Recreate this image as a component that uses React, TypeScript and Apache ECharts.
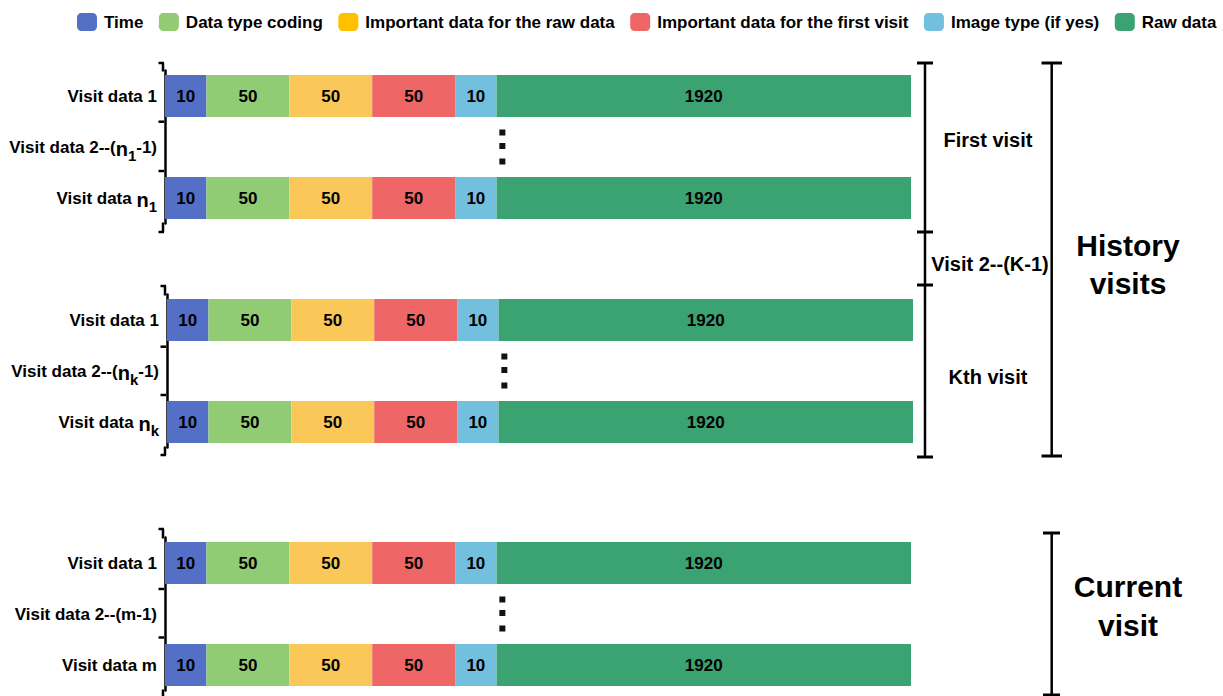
import React, { useEffect, useRef } from "react";
import * as echarts from "echarts";

// ---------- data ----------
const legendNames = [
  "Time",
  "Data type coding",
  "Important data for the raw data",
  "Important data for the first visit",
  "Image type (if yes)",
  "Raw data",
];
// values written on the segments
const segmentBits = [10, 50, 50, 50, 10, 1920];
// drawn lengths of the segments (schematic, not to scale)
const segmentLengths = [1, 2, 2, 2, 1, 10];
const barColors = ["#5470c6", "#91cc75", "#fac858", "#ee6666", "#73c0de", "#3ba272"];
const legendColors = ["#5470c6", "#91cc75", "#ffc000", "#ee6666", "#73c0de", "#3ba272"];

const firstVisitRows = ["Visit data 1", "Visit data 2--(n_1-1)", "Visit data n_1"];
const kthVisitRows = ["Visit data 1", "Visit data 2--(n_k-1)", "Visit data n_k"];
const currentVisitRows = ["Visit data 1", "Visit data 2--(m-1)", "Visit data m"];
const rowHasBar = [true, false, true];
const ellipsisX = 8.14; // position of the vertical ellipsis on the value axis
const axisMax = 18;

const FONT = '"Liberation Sans", Arial, Helvetica, sans-serif';

// ---------- layout ----------
const panels = [
  { rows: firstVisitRows, left: 165, top: 70.5, width: 746, height: 153, extTop: 63, extBottom: 232, ticks: [63, 121.7, 171, 232] },
  { rows: kthVisitRows, left: 167, top: 294.5, width: 746, height: 153, extTop: 286, extBottom: 455, ticks: [286, 346.7, 395, 455] },
  { rows: currentVisitRows, left: 165, top: 537.5, width: 746, height: 153, extTop: 529, extBottom: 720, ticks: [529, 589, 637.5] },
];
const AXIS_OFFSET = 2;

function labelFormatter(v: string): string {
  const m = v.match(/^(.*?)n_(\w)(.*)$/);
  if (!m) return `{t|${v}}`;
  return `{t|${m[1]}}{n|n}{sub|${m[2]}}` + (m[3] ? `{t|${m[3]}}` : "");
}

function line(x1: number, y1: number, x2: number, y2: number, w = 2.5) {
  return {
    type: "line",
    silent: true,
    shape: { x1, y1, x2, y2 },
    style: { stroke: "#000", lineWidth: w },
  };
}

function text(str: string, x: number, y: number, size: number, lineHeight?: number) {
  return {
    type: "text",
    silent: true,
    x,
    y,
    style: {
      text: str,
      fill: "#000",
      fontSize: size,
      fontWeight: "bold",
      fontFamily: FONT,
      align: "center",
      verticalAlign: "middle",
      lineHeight: lineHeight || size * 1.2,
    },
  };
}

export default function App() {
  const ref = useRef<HTMLDivElement>(null);

  useEffect(() => {
    document.body.style.margin = "0";
    if (!ref.current) return;
    const chart = echarts.init(ref.current, undefined, { renderer: "svg" });

    const grid = panels.map((p) => ({ left: p.left, top: p.top, width: p.width, height: p.height, containLabel: false }));
    const xAxis = panels.map((_, i) => ({
      type: "value",
      gridIndex: i,
      min: 0,
      max: axisMax,
      show: false,
    }));
    const yAxis = panels.map((p, i) => ({
      type: "category",
      gridIndex: i,
      inverse: true,
      data: p.rows,
      offset: AXIS_OFFSET,
      axisLine: { show: true, lineStyle: { color: "#000", width: 2.5 } },
      axisTick: { show: false },
      splitLine: { show: false },
      axisLabel: {
        margin: 6,
        formatter: labelFormatter,
        rich: {
          t: { fontSize: 17, fontWeight: "bold", fontFamily: FONT, color: "#000" },
          n: { fontSize: 20, fontWeight: "bold", fontFamily: FONT, color: "#000", padding: [4, 0, 0, 0] },
          sub: { fontSize: 15, fontWeight: "bold", fontFamily: FONT, color: "#000", padding: [17, 0, 0, 0] },
        },
      },
    }));

    const series: any[] = [];
    panels.forEach((p, pi) => {
      legendNames.forEach((name, si) => {
        series.push({
          type: "bar",
          name,
          xAxisIndex: pi,
          yAxisIndex: pi,
          stack: "panel" + pi,
          barWidth: 42,
          itemStyle: { color: barColors[si] },
          label: {
            show: true,
            position: "inside",
            formatter: String(segmentBits[si]),
            fontSize: 17,
            fontWeight: "bold",
            fontFamily: FONT,
            color: "#000",
          },
          data: p.rows.map((_, r) => (rowHasBar[r] ? segmentLengths[si] : "-")),
        });
      });
      series.push({
        type: "scatter",
        name: "ellipsis" + pi,
        xAxisIndex: pi,
        yAxisIndex: pi,
        silent: true,
        symbol: "path://M0,0h6v6h-6z M0,13.5h6v6h-6z M0,29h6v6h-6z",
        symbolSize: [6, 35],
        itemStyle: { color: "#111", opacity: 1 },
        data: [[ellipsisX, p.rows[1]]],
        z: 5,
      });
    });

    const graphics: any[] = [];
    panels.forEach((p) => {
      const ax = p.left - AXIS_OFFSET;
      graphics.push(line(ax, p.extTop, ax, p.top + 1));
      graphics.push(line(ax, p.top + p.height - 1, ax, p.extBottom));
      p.ticks.forEach((t) => graphics.push(line(ax - 4.5, t, ax + 1, t, 2.5)));
    });
    // inner bracket
    graphics.push(line(925, 63, 925, 457));
    [63, 232, 285, 457].forEach((y) => graphics.push(line(917, y, 933, y, 3)));
    // outer bracket (history)
    graphics.push(line(1051.7, 63, 1051.7, 456));
    [63, 456].forEach((y) => graphics.push(line(1041.5, y, 1062, y, 3)));
    // current bracket
    graphics.push(line(1051.7, 533, 1051.7, 696));
    [533, 695].forEach((y) => graphics.push(line(1043, y, 1060, y, 3)));

    graphics.push(text("First visit", 988, 140, 20));
    graphics.push(text("Visit 2--(K-1)", 990, 264, 20));
    graphics.push(text("Kth visit", 988, 377, 20));
    graphics.push(text("History\nvisits", 1128, 264, 30, 38));
    graphics.push(text("Current\nvisit", 1128, 606, 30, 39));

    chart.setOption({
      animation: false,
      backgroundColor: "#fff",
      legend: {
        top: 13,
        left: 77,
        width: 1146,
        padding: 0,
        itemWidth: 20,
        itemHeight: 18,
        itemGap: 15.5,
        icon: "roundRect",
        textStyle: { fontSize: 17, fontWeight: "bold", color: "#000", fontFamily: FONT, padding: [0, 0, 0, 2] },
        data: legendNames.map((n, i) => ({ name: n, itemStyle: { color: legendColors[i] } })),
      },
      grid,
      xAxis,
      yAxis,
      series,
      graphic: graphics,
    });

    return () => chart.dispose();
  }, []);

  return <div ref={ref} style={{ position: "fixed", left: 0, top: 0, width: 1223, height: 696 }} />;
}
